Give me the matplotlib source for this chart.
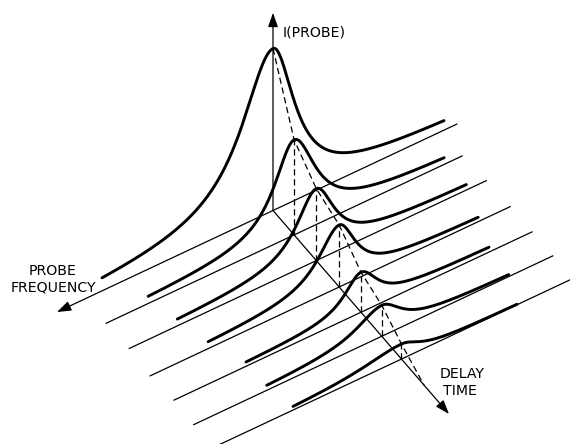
import matplotlib.pyplot as plt
import numpy as np
from matplotlib.patches import FancyArrowPatch

# probe scans: position along the delay axis and peak intensity (peak 1 = 1)
delays = [0.0, 0.12, 0.246, 0.376, 0.50, 0.618, 0.73]
peak_height = [1.0, 0.587, 0.444, 0.383, 0.247, 0.191, 0.093]
# half widths of each line on the high / low frequency side
width_hi = [0.38, 0.24, 0.24, 0.25, 0.20, 0.30, 0.45]
width_lo = [0.26, 0.26, 0.22, 0.20, 0.20, 0.24, 0.22]
# level of the far wings on each side
tail_hi = [0.035, 0.03, 0.03, 0.03, 0.02, 0.02, 0.01]
tail_lo = [0.037, 0.025, 0.025, 0.02, 0.025, 0.006, 0.0]
# frequency range covered by each trace
freq_hi = [1.71, 1.46, 1.39, 1.31, 1.15, 1.15, 1.085]
freq_lo = [-1.71, -1.50, -1.50, -1.39, -1.28, -1.27, -1.155]
# frequency range of the zero lines (the first one is the frequency axis)
base_hi = [2.16, 1.88, 1.87, 1.89, 1.87, 1.88, 1.845]
base_lo = [-1.84, -1.68, -1.70, -1.71, -1.71, -1.71, -1.75]
# delay where the peak envelope dies out
envelope_end = 0.858
int_axis_len = 1.22
delay_axis_len = 1.0

# oblique projection of (frequency, delay, intensity) onto the page
ORIGIN = np.array([273.0, 210.5])
E_FREQ = np.array([-100.0, 47.0])
E_DELAY = np.array([176.0, 203.5])
E_INT = np.array([0.0, -162.0])


def proj(f, t, i):
    f, t, i = np.broadcast_arrays(np.asarray(f, float), np.asarray(t, float),
                                  np.asarray(i, float))
    x = ORIGIN[0] + f * E_FREQ[0] + t * E_DELAY[0] + i * E_INT[0]
    y = ORIGIN[1] + f * E_FREQ[1] + t * E_DELAY[1] + i * E_INT[1]
    return x, y


def line_shape(f, a, w_hi, w_lo, b_hi, b_lo):
    w = np.where(f > 0, w_hi, w_lo)
    b = np.where(f > 0, b_hi, b_lo)
    return b + (a - b) / (1 + (f / w) ** 2)


def arrow(ax, p0, p1):
    ax.add_patch(FancyArrowPatch(p0, p1, arrowstyle='-|>,head_length=0.85,head_width=0.3',
                                 mutation_scale=10, lw=0.9, color='k',
                                 shrinkA=0, shrinkB=0))


fig = plt.figure(figsize=(5.7, 4.44), dpi=100)
ax = fig.add_axes([0, 0, 1, 1])
ax.set_xlim(0, 570)
ax.set_ylim(444, 0)
ax.axis('off')

# zero lines and spectra
for k, t in enumerate(delays):
    if k > 0:
        x, y = proj([base_hi[k], base_lo[k]], t, 0)
        ax.plot(x, y, color='k', lw=0.9)
    f = np.linspace(freq_lo[k], freq_hi[k], 500)
    i = line_shape(f, peak_height[k], width_hi[k], width_lo[k], tail_hi[k], tail_lo[k])
    x, y = proj(f, t, i)
    ax.plot(x, y, color='k', lw=2.1, solid_capstyle='round')

# drop lines from each peak and the decay envelope
for t, a in zip(delays[1:], peak_height[1:]):
    x, y = proj(0, [t, t], [0, a])
    ax.plot(x, y, color='k', lw=0.9, ls=(0, (5, 3)))
x, y = proj(0, delays + [envelope_end], peak_height + [0])
ax.plot(x, y, color='k', lw=0.9, ls=(0, (5, 3)))

# axes
x0, y0 = proj(0, 0, 0)
arrow(ax, (x0, y0), tuple(v.item() for v in proj(0, 0, int_axis_len)))
arrow(ax, (x0, y0), tuple(v.item() for v in proj(0, delay_axis_len, 0)))
arrow(ax, tuple(v.item() for v in proj(base_lo[0], 0, 0)),
      tuple(v.item() for v in proj(base_hi[0], 0, 0)))

fs = 10.2
ax.text(283, 37, 'I(PROBE)', fontsize=fs, ha='left', va='baseline')
ax.text(53, 275, 'PROBE', fontsize=fs, ha='center', va='baseline')
ax.text(53, 291.5, 'FREQUENCY', fontsize=fs, ha='center', va='baseline')
ax.text(440, 378, 'DELAY', fontsize=fs, ha='left', va='baseline')
ax.text(443, 395, 'TIME', fontsize=fs, ha='left', va='baseline')

fig.savefig('out.png', dpi=100, facecolor='white')
